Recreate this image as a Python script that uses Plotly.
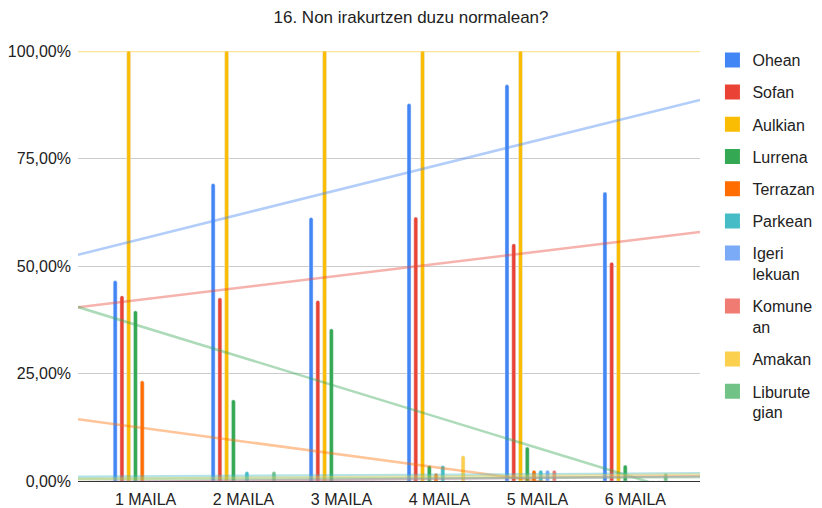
import numpy as np
import plotly.graph_objects as go

# Mailak (kategoriak)
mailak = ["1 MAILA", "2 MAILA", "3 MAILA", "4 MAILA", "5 MAILA", "6 MAILA"]

# Ehunekoak (%) seriearen arabera
ohean = [46.6, 69.2, 61.3, 87.8, 92.2, 67.2]
sofan = [43.1, 42.6, 42.0, 61.4, 55.2, 50.9]
aulkian = [100, 100, 100, 100, 100, 100]
lurrena = [39.6, 18.9, 35.4, 3.6, 7.9, 3.7]
terrazan = [23.3, 0, 0, 1.8, 2.5, 0]
parkean = [0, 2.2, 0, 3.6, 2.5, 0]
igeri_lekuan = [0, 0, 0, 0, 2.5, 0]
komunean = [0, 0, 0, 0, 2.5, 0]
amakan = [0, 0, 0, 5.9, 0, 0]
liburutegian = [0, 2.2, 0, 0, 0, 1.8]

izenak = ["Ohean", "Sofan", "Aulkian", "Lurrena", "Terrazan", "Parkean",
          "Igeri<br>lekuan", "Komune<br>an", "Amakan", "Liburute<br>gian"]
serieak = [ohean, sofan, aulkian, lurrena, terrazan, parkean,
           igeri_lekuan, komunean, amakan, liburutegian]
koloreak = ["#4285F4", "#EA4335", "#FBBC04", "#34A853", "#FF6D01", "#46BDC6",
            "#7BAAF7", "#F07B72", "#FCD04F", "#71C287"]

x_range = [-0.69, 5.66]
x_idx = np.arange(len(mailak))

fig = go.Figure()

for izena, balioak, kolorea in zip(izenak, serieak, koloreak):
    fig.add_trace(go.Bar(
        x=x_idx,
        y=np.array(balioak) / 100,
        name=izena,
        legendgroup=izena,
        showlegend=False,
        marker={"color": kolorea, "cornerradius": 2},
    ))

# joera-lerroak (lineal)
for izena, balioak, kolorea in zip(izenak, serieak, koloreak):
    a, b = np.polyfit(x_idx, np.array(balioak) / 100, 1)
    xs = np.array(x_range)
    fig.add_trace(go.Scatter(
        x=xs,
        y=a * xs + b,
        mode="lines",
        line={"color": kolorea, "width": 2.5},
        opacity=0.4,
        legendgroup=izena,
        showlegend=False,
        hoverinfo="skip",
    ))

# legendako karratuak (Sheets-eko tamainakoak)
for izena, kolorea in zip(izenak, koloreak):
    fig.add_trace(go.Scatter(
        x=[None],
        y=[None],
        mode="markers",
        name=izena,
        legendgroup=izena,
        marker={"symbol": "square", "size": 15, "color": kolorea},
    ))

fig.update_layout(
    width=822,
    height=508,
    margin={"l": 78, "r": 122, "t": 51, "b": 27, "autoexpand": False},
    paper_bgcolor="white",
    plot_bgcolor="white",
    font={"family": "Liberation Sans, Arial, sans-serif", "size": 16, "color": "#222222"},
    title={
        "text": "16. Non irakurtzen duzu normalean?",
        "x": 0.5,
        "xref": "container",
        "y": 1 - 17 / 508,
        "yref": "container",
        "yanchor": "middle",
        "font": {"size": 17, "color": "#222222"},
    },
    barmode="group",
    bargap=0.31,
    bargroupgap=0.41,
    separators=",.",
    xaxis={
        "range": x_range,
        "tickvals": list(x_idx),
        "ticktext": mailak,
        "showgrid": False,
        "zeroline": False,
        "showline": True,
        "linecolor": "#333333",
        "linewidth": 1,
        "automargin": False,
        "ticklabelstandoff": 4,
        "tickfont": {"size": 16, "color": "#222222"},
    },
    yaxis={
        "range": [0, 1],
        "tickvals": [0, 0.25, 0.5, 0.75, 1],
        "tickformat": ".2%",
        "gridcolor": "#cccccc",
        "gridwidth": 1,
        "zeroline": False,
        "automargin": False,
        "ticklabelstandoff": 6,
        "tickfont": {"size": 16, "color": "#222222"},
    },
    legend={
        "x": 1.02,
        "xanchor": "left",
        "y": (481 - (44 + 386)) / 430,
        "yanchor": "bottom",
        "tracegroupgap": 8.4,
        "valign": "top",
        "font": {"size": 16, "color": "#222222"},
    },
    showlegend=True,
)

# orriaren berezko marjina kendu
fig.write_html(
    "out.html",
    config={"displayModeBar": False},
    post_script="document.body.style.margin='0';document.body.style.overflow='hidden';",
)
